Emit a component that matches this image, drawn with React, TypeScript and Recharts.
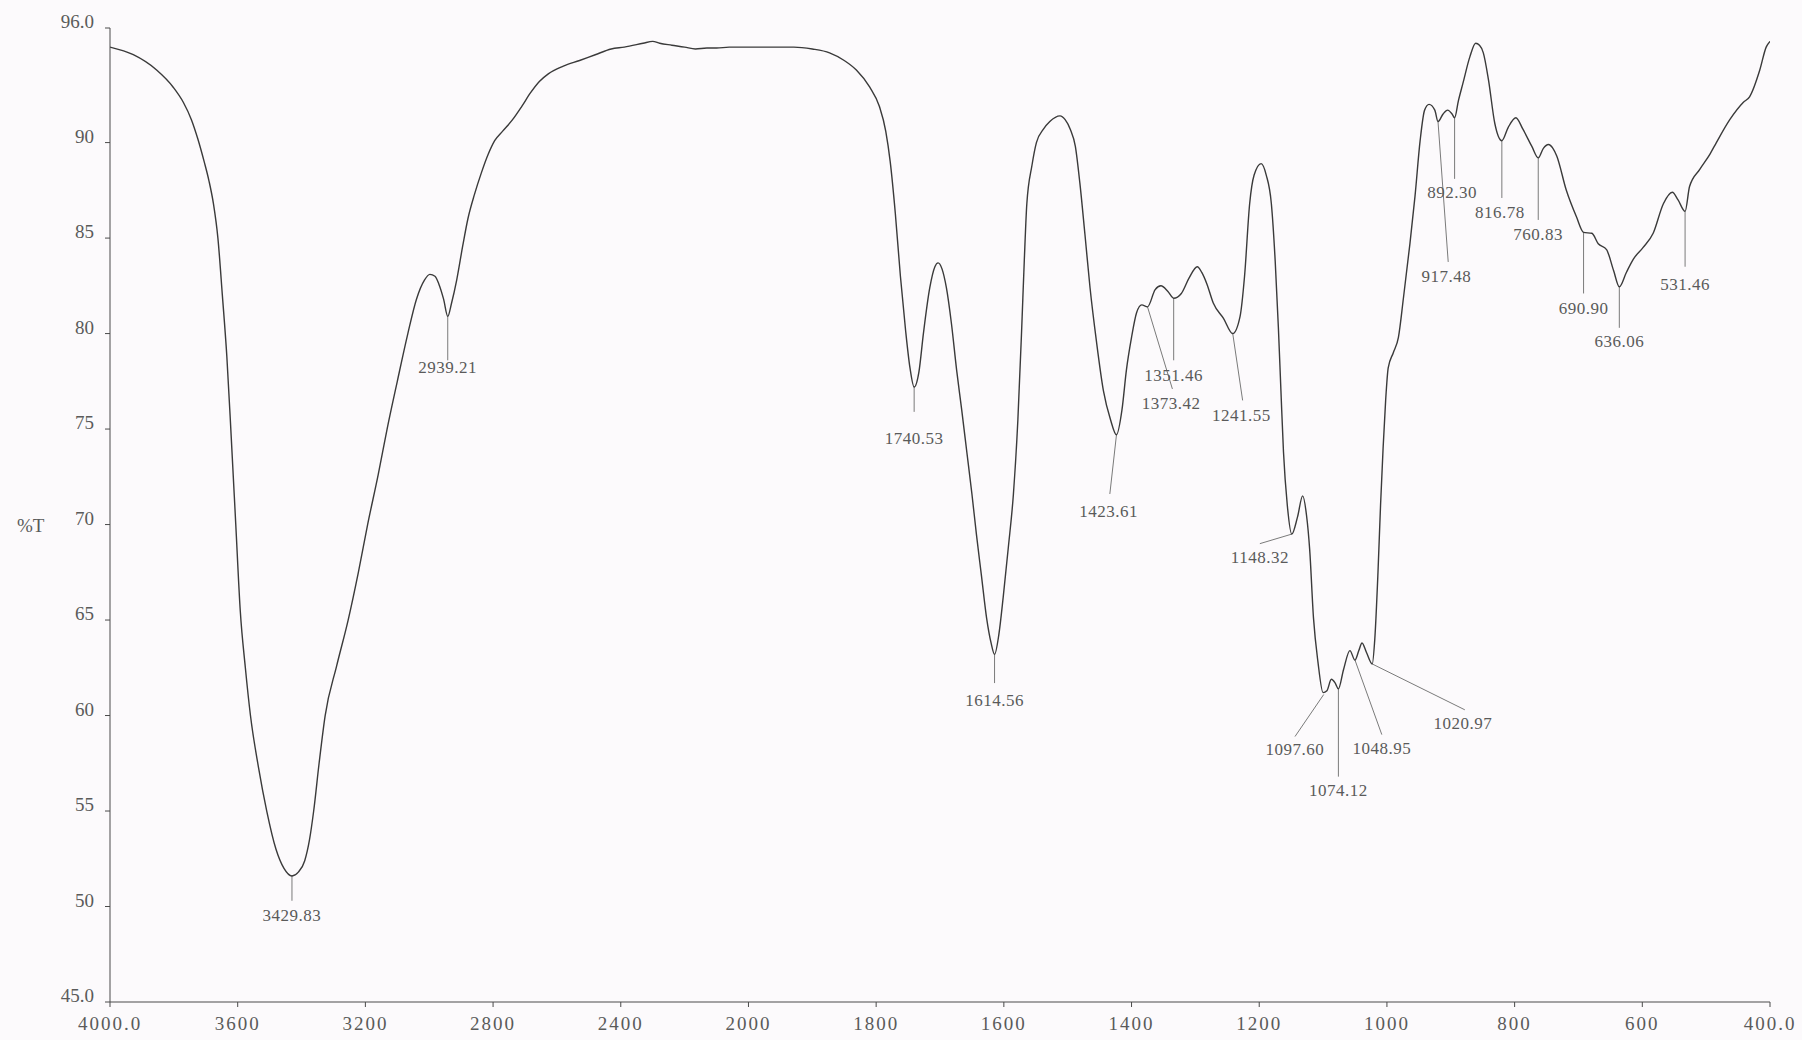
import {
  ComposedChart,
  Line,
  Scatter,
  XAxis,
  YAxis,
  ReferenceLine,
  Label,
} from 'recharts';

// x axis ticks: 400 cm-1 per division above 2000, 200 cm-1 per division below
const xTickLabels = ['4000.0', '3600', '3200', '2800', '2400', '2000', '1800', '1600', '1400', '1200', '1000', '800', '600', '400.0'];
const yTicks = [45, 50, 55, 60, 65, 70, 75, 80, 85, 90, 96];

const wavenumbers = [
  4000, 3927, 3854, 3802, 3770, 3745, 3725, 3705, 3690, 3676, 3662, 3648, 3634, 3620, 3606, 3592, 3576, 3560, 3535, 3509, 3480,
  3455, 3430, 3410, 3390, 3375, 3362, 3345, 3326, 3290, 3254, 3222, 3193, 3160, 3132, 3100, 3067, 3040, 3015, 2998, 2982,
  2970, 2955, 2942, 2930, 2914, 2895, 2879, 2858, 2837, 2815, 2795, 2770, 2739, 2710, 2683, 2655, 2627, 2580, 2529, 2480,
  2430, 2389, 2330, 2300, 2278, 2240, 2200, 2166, 2130, 2100, 2060, 2040, 2000, 1960, 1929, 1900, 1873, 1850, 1831, 1810,
  1795, 1785, 1778, 1770, 1762, 1754, 1747, 1740.5, 1733, 1726, 1716, 1708, 1703, 1697, 1690, 1682, 1674, 1666, 1658, 1650,
  1643, 1635, 1627, 1620, 1614.56, 1608, 1601, 1593, 1585, 1578, 1572, 1568, 1564, 1556, 1549, 1538, 1528, 1512, 1504, 1496,
  1488, 1481, 1473, 1465, 1455, 1444, 1433, 1423.6, 1415, 1408, 1400, 1392, 1384, 1375, 1363, 1354, 1343, 1334, 1322, 1310,
  1297, 1290, 1282, 1272, 1256, 1241.5, 1230, 1223, 1215, 1208, 1197, 1189, 1181, 1175, 1170, 1166, 1162, 1156, 1149, 1140,
  1132, 1126, 1121, 1115, 1108, 1100, 1094, 1087, 1081, 1076, 1068, 1058, 1050, 1044, 1039, 1032, 1023, 1019, 1014, 1010,
  1006, 1002, 998, 990, 982, 974, 964, 956, 948, 941, 934, 925, 920, 912, 905, 898, 894, 888, 881, 870,
  861, 855, 849, 841, 831, 820, 810, 798, 787, 773, 763, 755, 747, 740, 734, 719, 703, 692, 679, 669,
  656, 645, 636, 625, 614, 599, 583, 567, 553, 544, 533, 526, 510, 494, 484, 463, 442, 432, 416, 406,
  400,
];

const transmittance = [
  95.0, 94.6, 93.8, 92.9, 92.1, 91.2, 90.2, 89.0, 88.0, 86.8, 85.0, 82.0, 78.8, 74.5, 70.0, 65.5, 62.5, 60.0, 57.3, 55.0, 53.0,
  52.0, 51.6, 51.8, 52.4, 53.5, 55.0, 57.5, 60.0, 62.6, 65.0, 67.5, 70.0, 72.6, 75.0, 77.5, 80.0, 81.8, 82.8, 83.1, 83.0,
  82.6, 81.8, 80.9, 81.6, 82.8, 84.6, 86.0, 87.3, 88.4, 89.4, 90.1, 90.6, 91.2, 91.9, 92.6, 93.2, 93.6, 94.0, 94.3, 94.6,
  94.9, 95.0, 95.2, 95.3, 95.2, 95.1, 95.0, 94.9, 94.95, 94.95, 95.0, 95.0, 95.0, 95.0, 95.0, 94.9, 94.7, 94.3, 93.8, 92.9,
  91.9, 90.6, 89.0, 86.3, 83.0, 80.2, 78.2, 77.2, 78.0, 80.0, 82.4, 83.5, 83.7, 83.4, 82.4, 80.5, 78.1, 76.0, 73.8, 71.6,
  69.5, 67.3, 65.1, 63.8, 63.2, 64.2, 66.2, 68.8, 71.6, 75.5, 80.3, 83.8, 86.8, 88.8, 90.0, 90.7, 91.1, 91.4, 91.2, 90.7,
  89.8, 87.9, 85.2, 82.4, 79.6, 77.0, 75.5, 74.7, 76.0, 78.1, 79.8, 81.1, 81.5, 81.4, 82.3, 82.5, 82.2, 81.85, 82.1, 82.9,
  83.5, 83.2, 82.6, 81.6, 80.8, 80.0, 80.9, 83.0, 86.8, 88.3, 88.9, 88.3, 86.8, 83.8, 80.3, 77.0, 73.8, 71.0, 69.5, 70.4,
  71.5, 70.5, 68.7, 65.1, 62.8, 61.2, 61.3, 61.9, 61.7, 61.4, 62.4, 63.4, 62.9, 63.4, 63.8, 63.3, 62.7, 64.0, 67.5, 71.0,
  74.0, 76.5, 78.2, 79.0, 79.8, 81.9, 84.7, 87.2, 90.1, 91.7, 92.0, 91.7, 91.1, 91.5, 91.7, 91.5, 91.3, 92.2, 93.1, 94.5,
  95.2, 95.1, 94.7, 93.3, 91.0, 90.1, 90.8, 91.3, 90.7, 89.8, 89.2, 89.7, 89.9, 89.7, 89.3, 87.5, 86.1, 85.3, 85.25, 84.7,
  84.4, 83.3, 82.45, 83.2, 83.9, 84.5, 85.25, 86.8, 87.4, 87.0, 86.4, 87.7, 88.6, 89.4, 90.0, 91.2, 92.1, 92.4, 93.8, 95.0,
  95.3,
];

// peak labels: where the leader meets the curve, where it ends, where the text sits (wavenumber, %T)
const peaks = [
  { label: '3429.83', at: [3430, 51.6], end: [3430, 50.3], text: [3430, 49.55] },
  { label: '2939.21', at: [2942, 80.9], end: [2942, 78.6], text: [2942, 78.2] },
  { label: '1740.53', at: [1740.5, 77.2], end: [1740.5, 75.9], text: [1740.5, 74.5] },
  { label: '1614.56', at: [1614.56, 63.2], end: [1614.56, 61.7], text: [1614.56, 60.8] },
  { label: '1423.61', at: [1423.6, 74.7], end: [1434, 71.6], text: [1436, 70.7] },
  { label: '1373.42', at: [1375, 81.4], end: [1336, 77.1], text: [1338, 76.35] },
  { label: '1351.46', at: [1334, 81.85], end: [1334, 78.6], text: [1334, 77.8] },
  { label: '1241.55', at: [1241.5, 80.0], end: [1226, 76.5], text: [1228, 75.7] },
  { label: '1148.32', at: [1149, 69.5], end: [1199, 69.0], text: [1199, 68.25] },
  { label: '1097.60', at: [1099, 61.1], end: [1144, 58.9], text: [1144, 58.2] },
  { label: '1074.12', at: [1076, 61.4], end: [1076, 56.8], text: [1076, 56.1] },
  { label: '1048.95', at: [1050, 62.9], end: [1008, 59.0], text: [1008, 58.25] },
  { label: '1020.97', at: [1023, 62.7], end: [878, 60.3], text: [881, 59.6] },
  { label: '917.48', at: [920, 91.1], end: [904, 83.75], text: [907, 83.0] },
  { label: '892.30', at: [894, 91.3], end: [894, 88.1], text: [898, 87.4] },
  { label: '816.78', at: [820, 90.1], end: [820, 87.1], text: [823, 86.35] },
  { label: '760.83', at: [763, 89.2], end: [763, 85.95], text: [763, 85.2] },
  { label: '690.90', at: [692, 85.3], end: [692, 82.1], text: [692, 81.3] },
  { label: '636.06', at: [636, 82.45], end: [636, 80.3], text: [636, 79.6] },
  { label: '531.46', at: [533, 86.4], end: [533, 83.5], text: [533, 82.55] },
];

// piecewise wavenumber -> axis position (one unit per tick division)
const axisPos = (wn: number) => (wn >= 2000 ? (4000 - wn) / 400 : 5 + (2000 - wn) / 200);

const spectrum = wavenumbers.map((wn, i) => ({ x: axisPos(wn), y: transmittance[i] }));
const labelRows = peaks.map((p) => ({ x: axisPos(p.text[0]), y: p.text[1], label: p.label }));

const FONT = '"Liberation Serif", "Times New Roman", serif';
const TEXT = '#5a5a5a';
const AXIS = '#4a4a4a';

const XTick = (props: any) => {
  const { x, y, payload } = props;
  return (
    <text x={x} y={y} dy={14} textAnchor="middle" fill={TEXT} style={{ fontFamily: FONT }} fontSize={19} letterSpacing={2}>
      {xTickLabels[payload.value]}
    </text>
  );
};

const YTick = (props: any) => {
  const { x, y, payload } = props;
  const v = payload.value;
  const txt = v === 45 || v === 96 ? v.toFixed(1) : String(v);
  return (
    <text x={x} y={y} textAnchor="end" fill={TEXT} style={{ fontFamily: FONT }} fontSize={19}>
      {txt}
    </text>
  );
};

const PeakText = (props: any) => {
  const { cx, cy, payload } = props;
  return (
    <text x={cx} y={cy} textAnchor="middle" dominantBaseline="central" fill={TEXT} style={{ fontFamily: FONT }} fontSize={17} letterSpacing={0.5}>
      {payload.label}
    </text>
  );
};

export default function App() {
  return (
    <div style={{ position: 'absolute', left: 0, top: 0, width: 1802, height: 1040, background: '#fcfafc' }}>
      <ComposedChart width={1802} height={1040} data={spectrum} margin={{ top: 28, right: 32, bottom: 0, left: 0 }}>
        <XAxis
          type="number"
          dataKey="x"
          domain={[0, 13]}
          ticks={xTickLabels.map((_, i) => i)}
          allowDataOverflow
          height={38}
          tickSize={5}
          tickMargin={9}
          stroke={AXIS}
          tick={<XTick />}
        />
        <YAxis
          type="number"
          dataKey="y"
          domain={[45, 96]}
          ticks={yTicks}
          allowDataOverflow
          width={110}
          tickSize={5}
          tickMargin={11}
          stroke={AXIS}
          tick={<YTick />}
        >
          <Label
            content={(p: any) => {
              const vb = p.viewBox || { x: 0, y: 28, height: 974 };
              return (
                <text x={vb.x + 17} y={vb.y + vb.height / 2 + 17} fill={TEXT} style={{ fontFamily: FONT }} fontSize={19}>
                  %T
                </text>
              );
            }}
          />
        </YAxis>
        {peaks.map((p) => (
          <ReferenceLine
            key={p.label}
            segment={[
              { x: axisPos(p.at[0]), y: p.at[1] },
              { x: axisPos(p.end[0]), y: p.end[1] },
            ]}
            stroke="#7a7a7a"
            strokeWidth={1}
            ifOverflow="visible"
          />
        ))}
        <Line
          type="monotone"
          dataKey="y"
          stroke="#3a3a3a"
          strokeWidth={1.4}
          dot={false}
          activeDot={false}
          isAnimationActive={false}
        />
        <Scatter data={labelRows} dataKey="y" shape={<PeakText />} isAnimationActive={false} />
      </ComposedChart>
    </div>
  );
}
